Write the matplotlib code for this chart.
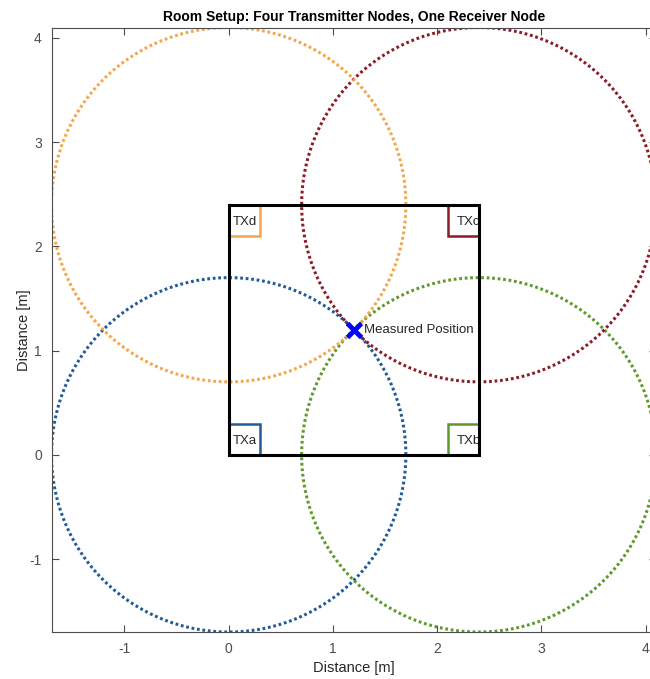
import numpy as np
import matplotlib
matplotlib.use("Agg")
import matplotlib.pyplot as plt
from matplotlib.patches import Rectangle

plt.rcParams['font.family'] = ['Liberation Sans', 'DejaVu Sans']
plt.rcParams['axes.unicode_minus'] = False

# Room and node layout (metres)
room_size = 2.4
node_box = 0.3
tx_names = ["TXa", "TXb", "TXc", "TXd"]
tx_x = [0.0, 2.4, 2.4, 0.0]
tx_y = [0.0, 0.0, 2.4, 2.4]
tx_radius = [1.7, 1.7, 1.7, 1.7]
tx_colors = ["#1F5C99", "#5E9A2B", "#8C1C26", "#F7A54A"]
measured = (1.2, 1.2)

fig = plt.figure(figsize=(6.5, 6.79), dpi=100)
ax = fig.add_axes([51.5 / 650, 47 / 679, 604.5 / 650, 604.5 / 679])

theta = np.linspace(0, 2 * np.pi, 600)
for x0, y0, r, c in zip(tx_x, tx_y, tx_radius, tx_colors):
    ax.plot(x0 + r * np.cos(theta), y0 + r * np.sin(theta),
            linestyle=(0, (0.9, 0.9)), linewidth=2.2, color=c, zorder=2)

room = Rectangle((0, 0), room_size, room_size, fill=False,
                 edgecolor="black", linewidth=2.2, zorder=5)

# Small marker boxes in each corner, with the node names inside
for name, x0, y0, c in zip(tx_names, tx_x, tx_y, tx_colors):
    right = x0 > room_size / 2
    bx = x0 - node_box if right else x0
    by = y0 - node_box if y0 > room_size / 2 else y0
    ax.add_patch(Rectangle((bx, by), node_box, node_box, fill=False,
                           edgecolor=c, linewidth=1.8, zorder=3))
    t = ax.text(bx + (0.09 if right else 0.04), by + node_box / 2 - 0.02,
                name, fontsize=9.5, color="#262626", va="center",
                ha="left", zorder=4)
    t.set_clip_path(room)

ax.add_patch(room)

ax.plot([measured[0]], [measured[1]], marker="x", color="#0000FF",
        markersize=10, markeredgewidth=3.5, linestyle="none", zorder=6)
ax.text(measured[0] + 0.1, measured[1], "Measured Position", fontsize=9.5,
        color="#262626", va="center", ha="left", zorder=6)

r = max(tx_radius)
ax.set_xlim(-r, room_size + r)
ax.set_ylim(-r, room_size + r)
ax.set_xticks([-1, 0, 1, 2, 3, 4])
ax.set_yticks([-1, 0, 1, 2, 3, 4])

for s in ax.spines.values():
    s.set_color("#4D4D4D")
    s.set_linewidth(0.8)
ax.tick_params(direction="in", length=5, width=0.8, color="#4D4D4D",
               labelcolor="#4D4D4D", labelsize=10, top=True, right=True,
               pad=7)

ax.set_xlabel("Distance [m]", fontsize=10.5, color="#262626", labelpad=4)
ax.set_ylabel("Distance [m]", fontsize=10.5, color="#262626", labelpad=-1)
ax.set_title("Room Setup: Four Transmitter Nodes, One Receiver Node",
             fontsize=10, fontweight="bold", color="#000000", pad=5)

fig.savefig("out.png", dpi=100)
